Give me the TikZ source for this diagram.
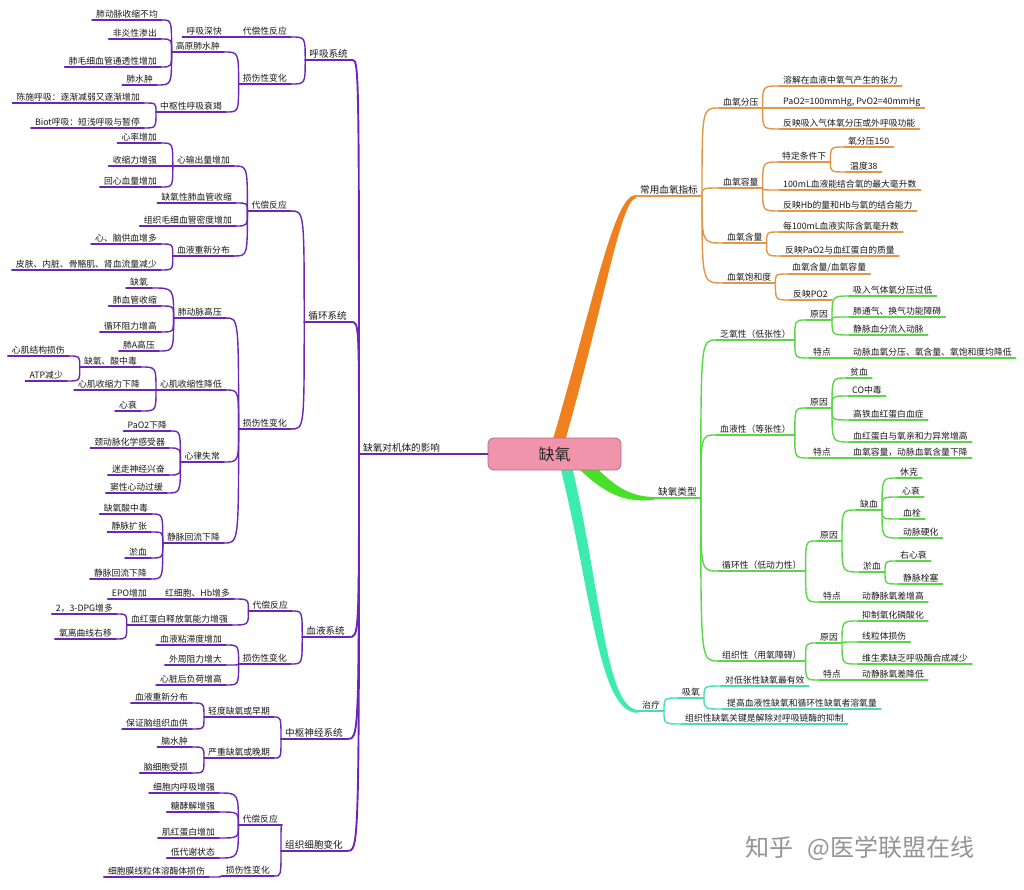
\documentclass[tikz,border=0pt]{standalone}
\usepackage{fontspec}
\setmainfont{Noto Sans CJK SC}
\usetikzlibrary{calc}
\definecolor{pu}{RGB}{108,38,180}
\definecolor{orT}{RGB}{238,128,30}
\definecolor{orL}{RGB}{226,150,70}
\definecolor{grT}{RGB}{70,225,40}
\definecolor{grL}{RGB}{90,215,70}
\definecolor{cyT}{RGB}{60,235,175}
\definecolor{cyL}{RGB}{70,220,180}
\definecolor{rootfill}{RGB}{240,148,172}
\definecolor{rootdraw}{RGB}{176,106,130}
\newcommand\LL[6]{\node[lt,#6] (#1) at (#2,#3) {#4};\draw[#5] (#1.south west) -- (#1.south east);}
\newcommand\RR[6]{\node[rt,#6] (#1) at (#2,#3) {#4};\draw[#5] (#1.south west) -- (#1.south east);}
\begin{document}
\begin{tikzpicture}[x=1pt,y=-1pt,
  base/.style={font=\fontsize{8.8}{10}\selectfont, inner xsep=4pt, inner ysep=1.5pt, text=black!90},
  lt/.style={base,anchor=south east},
  rt/.style={base,anchor=south west},
  big/.style={font=\fontsize{9.6}{11}\selectfont},
  cv/.style={to path={.. controls (\tikztostart |- \tikztotarget) .. (\tikztotarget)}},
  pl/.style={draw=pu,line width=1.4pt,line cap=round},
  pl1/.style={draw=pu,line width=1.9pt,line cap=round},
  ol/.style={draw=orL,line width=1.4pt,line cap=round},
  gl/.style={draw=grL,line width=1.4pt,line cap=round},
  zl/.style={draw=cyL,line width=1.4pt,line cap=round},
  rootbox/.style={draw=rootdraw,fill=rootfill,rounded corners=6pt,line width=0.8pt,minimum width=133pt,minimum height=32pt,font=\fontsize{16}{18}\selectfont,text=black!85}
]
\fill[white] (0,0) rectangle (1024,890);
\useasboundingbox (0,0) rectangle (1024,890);

% thick branches from root
\fill[orT] (551,446) .. controls (594,300) and (614,194) .. (636,195) -- (636,197.8) .. controls (620,202) and (605,302) .. (563,448) -- cycle;
\fill[grT] (587,458) .. controls (610,482) and (625,496.5) .. (654,497) -- (654,499.8) .. controls (622,503.5) and (602,491) .. (578,468) -- cycle;
\fill[cyT] (559,462) .. controls (592,592) and (598,713.5) .. (638,712.8) -- (638,710) .. controls (605,708) and (601,588) .. (571,462) -- cycle;

\node[rootbox] (root) at (554.5,454) {缺氧};
\node[rt,big] (lmain) at (359,454) {缺氧对机体的影响};
\draw[pl1] (lmain.south west) -- (root.west);

% ===== left: respiratory
\LL{resp}{352}{60}{呼吸系统}{pl1}{big}
\LL{r1}{291}{37}{代偿性反应}{pl}{}
\LL{r1a}{226}{37}{呼吸深快}{pl}{}
\LL{r2}{291}{84}{损伤性变化}{pl}{}
\LL{r2a}{224}{52}{高原肺水肿}{pl}{}
\LL{r2a1}{162}{20}{肺动脉收缩不均}{pl}{}
\LL{r2a2}{161}{39}{非炎性渗出}{pl}{}
\LL{r2a3}{161}{67}{肺毛细血管通透性增加}{pl}{}
\LL{r2a4}{157}{85}{肺水肿}{pl}{}
\LL{r2b}{226}{112}{中枢性呼吸衰竭}{pl}{}
\LL{r2b1}{144}{103}{陈施呼吸：逐渐减弱又逐渐增加}{pl}{}
\LL{r2b2}{144}{128}{Biot呼吸：短浅呼吸与暂停}{pl}{}
% circulatory
\LL{circ}{351}{322}{循环系统}{pl1}{big}
\LL{c1}{291}{211}{代偿反应}{pl}{}
\LL{c1a}{234}{166}{心输出量增加}{pl}{}
\LL{c1a1}{161}{143}{心率增加}{pl}{}
\LL{c1a2}{161}{166}{收缩力增强}{pl}{}
\LL{c1a3}{161}{187}{回心血量增加}{pl}{}
\LL{c1b}{236}{203}{缺氧性肺血管收缩}{pl}{}
\LL{c1c}{236}{226}{组织毛细血管密度增加}{pl}{}
\LL{c1d}{234}{256}{血液重新分布}{pl}{}
\LL{c1d1}{161}{244}{心、脑供血增多}{pl}{}
\LL{c1d2}{161}{270}{皮肤、内脏、骨骼肌、肾血流量减少}{pl}{}
\LL{c2}{291}{429}{损伤性变化}{pl}{}
\LL{c2a}{226}{318}{肺动脉高压}{pl}{}
\LL{c2a1}{152}{288}{缺氧}{pl}{}
\LL{c2a2}{161}{306}{肺血管收缩}{pl}{}
\LL{c2a3}{161}{332}{循环阻力增高}{pl}{}
\LL{c2a4}{159}{351}{肺A高压}{pl}{}
\LL{c2b}{226}{390}{心肌收缩性降低}{pl}{}
\LL{c2b1}{141}{367}{缺氧、酸中毒}{pl}{}
\LL{c2b1a}{69}{356}{心肌结构损伤}{pl}{}
\LL{c2b1b}{67}{381}{ATP减少}{pl}{}
\LL{c2b2}{144}{390}{心肌收缩力下降}{pl}{}
\LL{c2b3}{141}{411}{心衰}{pl}{}
\LL{c2c}{224}{462}{心律失常}{pl}{}
\LL{c2c1}{171}{431}{PaO2下降}{pl}{}
\LL{c2c2}{169}{448}{颈动脉化学感受器}{pl}{}
\LL{c2c3}{169}{475}{迷走神经兴奋}{pl}{}
\LL{c2c4}{167}{493}{窦性心动过缓}{pl}{}
\LL{c2d}{224}{543}{静脉回流下降}{pl}{}
\LL{c2d1}{152}{514}{缺氧酸中毒}{pl}{}
\LL{c2d2}{151}{532}{静脉扩张}{pl}{}
\LL{c2d3}{151}{558}{淤血}{pl}{}
\LL{c2d4}{151}{579}{静脉回流下降}{pl}{}
% blood
\LL{blood}{349}{637}{血液系统}{pl1}{big}
\LL{b1}{292}{611}{代偿反应}{pl}{}
\LL{b1a}{234}{599}{红细胞、Hb增多}{pl}{}
\LL{b1a1}{151}{599}{EPO增加}{pl}{}
\LL{b1b}{232}{625}{血红蛋白释放氧能力增强}{pl}{}
\LL{b1b1}{117}{614}{2，3-DPG增多}{pl}{}
\LL{b1b2}{116}{639}{氧离曲线右移}{pl}{}
\LL{b2}{291}{664}{损伤性变化}{pl}{}
\LL{b2a}{226}{645}{血液粘滞度增加}{pl}{}
\LL{b2b}{226}{665}{外周阻力增大}{pl}{}
\LL{b2c}{226}{685}{心脏后负荷增高}{pl}{}
% CNS
\LL{cns}{347}{739}{中枢神经系统}{pl1}{big}
\LL{n1}{274}{717}{轻度缺氧或早期}{pl}{}
\LL{n1a}{192}{703}{血液重新分布}{pl}{}
\LL{n1b}{192}{729}{保证脑组织血供}{pl}{}
\LL{n2}{274}{758}{严重缺氧或晚期}{pl}{}
\LL{n2a}{192}{747}{脑水肿}{pl}{}
\LL{n2b}{192}{773}{脑细胞受损}{pl}{}
% tissue
\LL{tissue}{347}{851}{组织细胞变化}{pl1}{big}
\LL{t1}{282}{825}{代偿反应}{pl}{}
\LL{t1a}{219}{793}{细胞内呼吸增强}{pl}{}
\LL{t1b}{219}{812}{糖酵解增强}{pl}{}
\LL{t1c}{219}{838}{肌红蛋白增加}{pl}{}
\LL{t1d}{219}{858}{低代谢状态}{pl}{}
\LL{t2}{274}{876}{损伤性变化}{pl}{}
\LL{t2a}{209}{877}{细胞膜线粒体溶酶体损伤}{pl}{}

\foreach \b in {resp,circ,blood,cns,tissue}
  \draw[pl1,cv] (lmain.south west) to (\b.south east);
\foreach \a/\b in {resp/r1,resp/r2,r1/r1a,r2/r2a,r2/r2b,r2a/r2a1,r2a/r2a2,r2a/r2a3,r2a/r2a4,r2b/r2b1,r2b/r2b2,
  circ/c1,circ/c2,c1/c1a,c1/c1b,c1/c1c,c1/c1d,c1a/c1a1,c1a/c1a2,c1a/c1a3,c1d/c1d1,c1d/c1d2,
  c2/c2a,c2/c2b,c2/c2c,c2/c2d,c2a/c2a1,c2a/c2a2,c2a/c2a3,c2a/c2a4,c2b/c2b1,c2b/c2b2,c2b/c2b3,c2b1/c2b1a,c2b1/c2b1b,
  c2c/c2c1,c2c/c2c2,c2c/c2c3,c2c/c2c4,c2d/c2d1,c2d/c2d2,c2d/c2d3,c2d/c2d4,
  blood/b1,blood/b2,b1/b1a,b1/b1b,b1a/b1a1,b1b/b1b1,b1b/b1b2,b2/b2a,b2/b2b,b2/b2c,
  cns/n1,cns/n2,n1/n1a,n1/n1b,n2/n2a,n2/n2b,
  tissue/t1,tissue/t2,t1/t1a,t1/t1b,t1/t1c,t1/t1d,t2/t2a}
  \draw[pl,cv] (\a.south west) to (\b.south east);

% ===== right: orange
\RR{o}{636}{196}{常用血氧指标}{ol}{big}
\RR{o1}{719}{108}{血氧分压}{ol}{}
\RR{o1a}{779}{86}{溶解在血液中氧气产生的张力}{ol}{}
\RR{o1b}{779}{108}{PaO2=100mmHg, PvO2=40mmHg}{ol}{}
\RR{o1c}{779}{129}{反映吸入气体氧分压或外呼吸功能}{ol}{}
\RR{o2}{719}{188}{血氧容量}{ol}{}
\RR{o2a}{778}{162}{特定条件下}{ol}{}
\RR{o2a1}{844}{147}{氧分压150}{ol}{}
\RR{o2a2}{846}{172}{温度38}{ol}{}
\RR{o2b}{779}{190}{100mL血液能结合氧的最大毫升数}{ol}{}
\RR{o2c}{779}{211}{反映Hb的量和Hb与氧的结合能力}{ol}{}
\RR{o3}{723}{243}{血氧含量}{ol}{}
\RR{o3a}{779}{232}{每100mL血液实际含氧毫升数}{ol}{}
\RR{o3b}{781}{256}{反映PaO2与血红蛋白的质量}{ol}{}
\RR{o4}{723}{283}{血氧饱和度}{ol}{}
\RR{o4a}{788}{274}{血氧含量/血氧容量}{ol}{}
\RR{o4b}{789}{300}{反映PO2}{ol}{}
% green
\RR{g}{654}{498}{缺氧类型}{gl}{big}
\RR{g1}{716}{340}{乏氧性（低张性）}{gl}{}
\RR{g1a}{806}{320}{原因}{gl}{}
\RR{g1a1}{849}{296}{吸入气体氧分压过低}{gl}{}
\RR{g1a2}{849}{317}{肺通气、换气功能障碍}{gl}{}
\RR{g1a3}{849}{335}{静脉血分流入动脉}{gl}{}
\RR{g1b}{809}{358}{特点}{gl}{}
\RR{g1b1}{849}{358}{动脉血氧分压、氧含量、氧饱和度均降低}{gl}{}
\RR{g2}{716}{435}{血液性（等张性）}{gl}{}
\RR{g2a}{806}{408}{原因}{gl}{}
\RR{g2a1}{846}{378}{贫血}{gl}{}
\RR{g2a2}{848}{396}{CO中毒}{gl}{}
\RR{g2a3}{849}{420}{高铁血红蛋白血症}{gl}{}
\RR{g2a4}{849}{442}{血红蛋白与氧亲和力异常增高}{gl}{}
\RR{g2b}{809}{458}{特点}{gl}{}
\RR{g2b1}{849}{458}{血氧容量，动脉血氧含量下降}{gl}{}
\RR{g3}{718}{571}{循环性（低动力性）}{gl}{}
\RR{g3a}{816}{541}{原因}{gl}{}
\RR{g3a1}{856}{510}{缺血}{gl}{}
\RR{g3a1a}{896}{478}{休克}{gl}{}
\RR{g3a1b}{898}{497}{心衰}{gl}{}
\RR{g3a1c}{899}{519}{血栓}{gl}{}
\RR{g3a1d}{899}{538}{动脉硬化}{gl}{}
\RR{g3a2}{859}{572}{淤血}{gl}{}
\RR{g3a2a}{896}{561}{右心衰}{gl}{}
\RR{g3a2b}{899}{584}{静脉栓塞}{gl}{}
\RR{g3b}{819}{602}{特点}{gl}{}
\RR{g3b1}{858}{602}{动静脉氧差增高}{gl}{}
\RR{g4}{718}{661}{组织性（用氧障碍）}{gl}{}
\RR{g4a}{816}{643}{原因}{gl}{}
\RR{g4a1}{858}{621}{抑制氧化磷酸化}{gl}{}
\RR{g4a2}{858}{642}{线粒体损伤}{gl}{}
\RR{g4a3}{858}{664}{维生素缺乏呼吸酶合成减少}{gl}{}
\RR{g4b}{819}{680}{特点}{gl}{}
\RR{g4b1}{858}{680}{动静脉氧差降低}{gl}{}
% cyan
\RR{z}{638}{711}{治疗}{zl}{}
\RR{z1}{678}{698}{吸氧}{zl}{}
\RR{z1a}{721}{686}{对低张性缺氧最有效}{zl}{}
\RR{z1b}{723}{709}{提高血液性缺氧和循环性缺氧者溶氧量}{zl}{}
\RR{z2}{681}{724}{组织性缺氧关键是解除对呼吸链酶的抑制}{zl}{}

\foreach \a/\b in {o/o1,o/o2,o/o3,o/o4,o1/o1a,o1/o1b,o1/o1c,o2/o2a,o2/o2b,o2/o2c,o2a/o2a1,o2a/o2a2,o3/o3a,o3/o3b,o4/o4a,o4/o4b}
  \draw[ol,cv] (\a.south east) to (\b.south west);
\foreach \a/\b in {g/g1,g/g2,g/g3,g/g4,g1/g1a,g1/g1b,g1a/g1a1,g1a/g1a2,g1a/g1a3,g1b/g1b1,
  g2/g2a,g2/g2b,g2a/g2a1,g2a/g2a2,g2a/g2a3,g2a/g2a4,g2b/g2b1,
  g3/g3a,g3/g3b,g3a/g3a1,g3a/g3a2,g3a1/g3a1a,g3a1/g3a1b,g3a1/g3a1c,g3a1/g3a1d,g3a2/g3a2a,g3a2/g3a2b,g3b/g3b1,
  g4/g4a,g4/g4b,g4a/g4a1,g4a/g4a2,g4a/g4a3,g4b/g4b1}
  \draw[gl,cv] (\a.south east) to (\b.south west);
\foreach \a/\b in {z/z1,z/z2,z1/z1a,z1/z1b}
  \draw[zl,cv] (\a.south east) to (\b.south west);

% watermark
\node[font=\fontsize{24}{28}\selectfont, text=black!42] (wm) at (860,848) {知乎\hspace{14pt}@医学联盟在线};
\end{tikzpicture}
\end{document}
